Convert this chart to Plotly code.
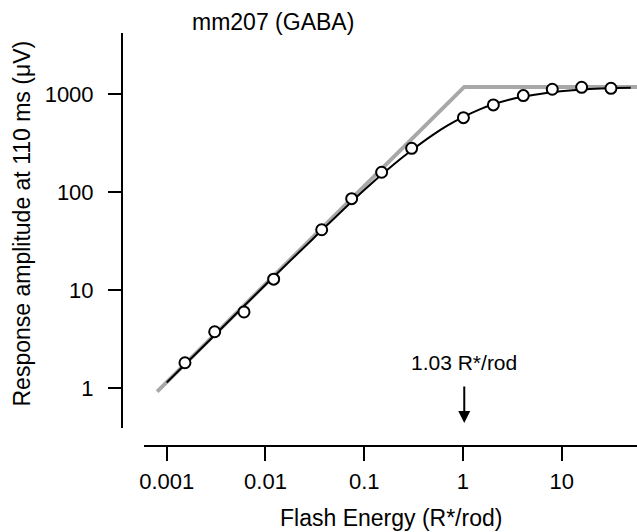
import math
import plotly.graph_objects as go

# ---- data ----
flash_energy = [0.00153, 0.00306, 0.00606, 0.0121, 0.0371, 0.0746, 0.150, 0.302,
                1.01, 2.03, 4.08, 8.02, 15.9, 31.5]
response_amp = [1.81, 3.75, 5.97, 12.9, 41.2, 85.5, 159, 279,
                573, 773, 962, 1117, 1170, 1143]

fit_x = [0.001, 0.003, 0.01, 0.03, 0.1, 0.2, 0.3, 0.5, 0.7, 1.0, 1.5, 2, 3, 4,
         6, 8, 12, 16, 25, 35, 50]
fit_y = [1.14, 3.4, 11.3, 33, 105, 192, 265, 385, 478, 580, 700, 780, 880, 935,
         1000, 1040, 1085, 1110, 1135, 1148, 1158]

limit_x = [0.0008, 1.03, 60]
limit_y = [0.92, 1180, 1180]

x_tickvals = [0.001, 0.01, 0.1, 1, 10]
x_ticktext = ["0.001", "0.01", "0.1", "1", "10"]
y_tickvals = [1, 10, 100, 1000]
y_ticktext = ["1", "10", "100", "1000"]

half_sat = 1.03
half_sat_label = "1.03 R*/rod"
title_text = "mm207 (GABA)"
x_title = "Flash Energy (R*/rod)"
y_title = "Response amplitude at 110 ms (\u03bcV)"

FONT = "Liberation Sans, Arial, Helvetica, sans-serif"

fig = go.Figure()
fig.add_trace(go.Scatter(x=limit_x, y=limit_y, mode="lines",
                         line=dict(color="#a8a8a8", width=4), hoverinfo="skip"))
fig.add_trace(go.Scatter(x=fit_x, y=fit_y, mode="lines",
                         line=dict(color="black", width=2, shape="spline"), hoverinfo="skip"))
fig.add_trace(go.Scatter(x=flash_energy, y=response_amp, mode="markers",
                         marker=dict(symbol="circle", size=11, color="white",
                                     line=dict(color="black", width=2))))

W, H = 637, 532
L, R, T, B = 122, 0, 33, 86
pw, ph = W - L - R, H - T - B

def px2paper_x(px):
    return (px - L) / pw

def px2paper_y(py):
    return (H - B - py) / ph

fig.update_layout(
    width=W, height=H,
    margin=dict(l=L, r=R, t=T, b=B, pad=0),
    plot_bgcolor="white", paper_bgcolor="white",
    showlegend=False,
    font=dict(family=FONT, size=22, color="black"),
    xaxis=dict(type="log", range=[-3.227, 1.762], domain=[px2paper_x(144.3), 1],
               anchor="free", position=0,
               showline=True, linecolor="black", linewidth=2,
               ticks="outside", ticklen=14, tickwidth=2, tickcolor="black",
               tickvals=x_tickvals, ticktext=x_ticktext,
               showgrid=False, zeroline=False, ticklabelstandoff=2,
               tickfont=dict(family=FONT, size=22)),
    yaxis=dict(type="log", range=[-0.408, 3.622], domain=[px2paper_y(428), 1],
               anchor="free", position=0,
               showline=True, linecolor="black", linewidth=2,
               ticks="outside", ticklen=13, tickwidth=2, tickcolor="black",
               tickvals=y_tickvals, ticktext=y_ticktext,
               showgrid=False, zeroline=False, ticklabelstandoff=10,
               tickfont=dict(family=FONT, size=22)),
    annotations=[
        dict(text=title_text, xref="paper", yref="paper",
             x=px2paper_x(273), y=px2paper_y(22), showarrow=False,
             xanchor="center", yanchor="middle", font=dict(size=23)),
        dict(text=x_title, xref="paper", yref="paper",
             x=px2paper_x(391), y=px2paper_y(518), showarrow=False,
             xanchor="center", yanchor="middle", font=dict(size=23)),
        dict(text=y_title, xref="paper", yref="paper", textangle=-90,
             x=px2paper_x(21.5), y=px2paper_y(224), showarrow=False,
             xanchor="center", yanchor="middle", font=dict(size=23)),
        dict(text=half_sat_label, xref="x", yref="y",
             x=math.log10(half_sat), y=(388 - 362) / 98, showarrow=False,
             xanchor="center", yanchor="middle", font=dict(size=21)),
        dict(text="", xref="x", yref="y",
             x=math.log10(half_sat), y=(388 - 423) / 98,
             showarrow=True, ax=0, ay=-38, arrowhead=2, arrowsize=1.2,
             arrowwidth=2, arrowcolor="black"),
    ],
)

fig.write_html("out.html", config={"displayModeBar": False},
               post_script="document.body.style.margin='0px';document.body.style.overflow='hidden';")
